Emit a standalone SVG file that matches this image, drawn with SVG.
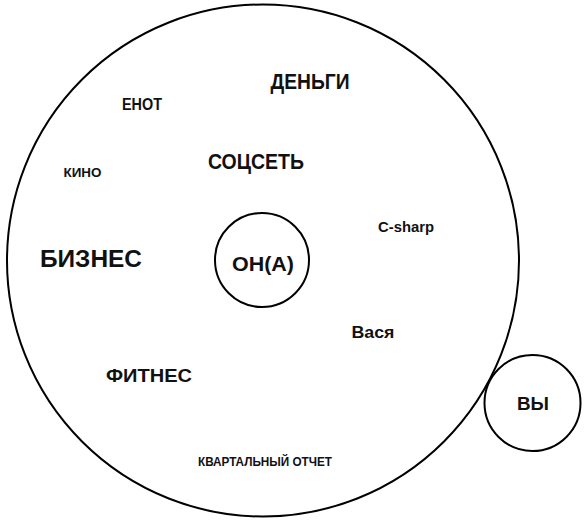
<svg xmlns="http://www.w3.org/2000/svg" width="587" height="527" viewBox="0 0 587 527">
  <style>
    .c { fill: none; stroke: #000; stroke-width: 2; }
    text { font-family: "Liberation Sans", "DejaVu Sans", sans-serif; fill: #111; text-anchor: middle; }
    .b { font-weight: 700; }
    .m { font-weight: 700; }
  </style>
  <rect width="587" height="527" fill="#fff"/>
  <g id="big-circle">
    <circle class="c" cx="263" cy="260.5" r="256"/>
  </g>
  <g id="connectors"></g>
  <g id="node-ona">
    <circle class="c" cx="262" cy="260" r="47"/>
    <text class="m" x="263" y="271" font-size="20" textLength="62" lengthAdjust="spacingAndGlyphs">ОН(А)</text>
  </g>
  <g id="node-vy">
    <circle class="c" cx="532.5" cy="403" r="48"/>
    <text class="b" x="533" y="410" font-size="19" textLength="32" lengthAdjust="spacingAndGlyphs">ВЫ</text>
  </g>
  <g id="label-dengi"><text class="b" x="310" y="89.3" font-size="22" textLength="79" lengthAdjust="spacingAndGlyphs">ДЕНЬГИ</text></g>
  <g id="label-enot"><text class="m" x="142" y="110" font-size="16" textLength="40" lengthAdjust="spacingAndGlyphs">ЕНОТ</text></g>
  <g id="label-socset"><text class="b" x="256" y="169.3" font-size="22" textLength="96" lengthAdjust="spacingAndGlyphs">СОЦСЕТЬ</text></g>
  <g id="label-kino"><text class="m" x="82.5" y="177.3" font-size="12.5" textLength="38" lengthAdjust="spacingAndGlyphs">КИНО</text></g>
  <g id="label-csharp"><text class="m" x="406" y="232.3" font-size="15" textLength="56" lengthAdjust="spacingAndGlyphs">C-sharp</text></g>
  <g id="label-biznes"><text class="b" x="91" y="266.7" font-size="23" textLength="102" lengthAdjust="spacingAndGlyphs">БИЗНЕС</text></g>
  <g id="label-vasya"><text class="b" x="373" y="338" font-size="17" textLength="43" lengthAdjust="spacingAndGlyphs">Вася</text></g>
  <g id="label-fitnes"><text class="b" x="149" y="382" font-size="19" textLength="86" lengthAdjust="spacingAndGlyphs">ФИТНЕС</text></g>
  <g id="label-kvartal"><text class="m" x="265" y="466" font-size="12" textLength="134" lengthAdjust="spacingAndGlyphs">КВАРТАЛЬНЫЙ ОТЧЕТ</text></g>
</svg>
